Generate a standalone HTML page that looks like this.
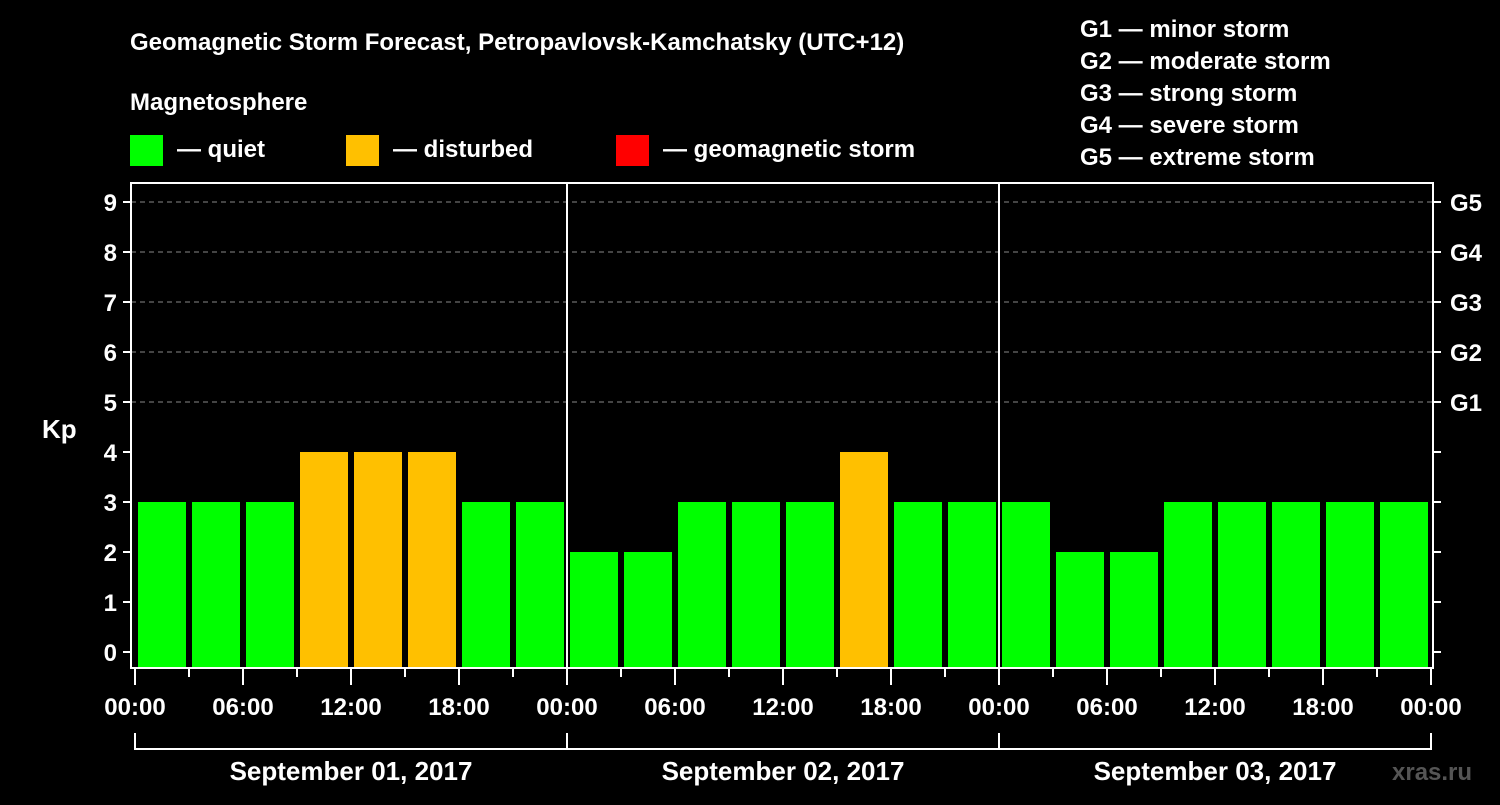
<!DOCTYPE html>
<html><head><meta charset="utf-8"><style>
body{margin:0;background:#000;width:1500px;height:800px;overflow:hidden}
svg text{font-family:"Liberation Sans",Arial,sans-serif;font-weight:bold;fill:#fff}
</style></head><body>
<svg id="c" width="1500" height="800" xmlns="http://www.w3.org/2000/svg">
<rect width="1500" height="800" fill="#000"/>
<text x="130" y="50" font-size="24">Geomagnetic Storm Forecast, Petropavlovsk-Kamchatsky (UTC+12)</text>
<text x="130" y="110" font-size="24">Magnetosphere</text>
<rect x="130" y="135" width="33" height="31" fill="#00ff00"/>
<text x="177" y="157" font-size="24">— quiet</text>
<rect x="346" y="135" width="33" height="31" fill="#ffc000"/>
<text x="393" y="157" font-size="24">— disturbed</text>
<rect x="616" y="135" width="33" height="31" fill="#ff0000"/>
<text x="663" y="157" font-size="24">— geomagnetic storm</text>
<g font-size="24">
<text x="1080" y="37">G1 — minor storm</text>
<text x="1080" y="69">G2 — moderate storm</text>
<text x="1080" y="101">G3 — strong storm</text>
<text x="1080" y="133">G4 — severe storm</text>
<text x="1080" y="165">G5 — extreme storm</text>
</g>
<text x="42" y="438" font-size="26">Kp</text>
<text x="1392" y="780" font-size="24" fill="#555" style="fill:#555">xras.ru</text>
<g id="plot"></g>
</svg>
<script>
const kpValues=[3,3,3,4,4,4,3,3, 2,2,3,3,3,4,3,3, 3,2,2,3,3,3,3,3];
const dayLabels=["September 01, 2017","September 02, 2017","September 03, 2017"];
const hourLabels=["00:00","06:00","12:00","18:00"];
const gLabels=["G1","G2","G3","G4","G5"];
const yTicks=[0,1,2,3,4,5,6,7,8,9];
const NS="http://www.w3.org/2000/svg";
const X0=135,SLOT=54,FL=131,FR=1433,FT=183,FB=668;
const xs=i=>X0+i*SLOT;
const ys=v=>652-50*v;
const g=document.getElementById('plot');
function mk(t,a){const e=document.createElementNS(NS,t);for(const k in a)e.setAttribute(k,a[k]);g.appendChild(e);return e;}
function col(v){return v>=5?"#ff0000":v>=4?"#ffc000":"#00ff00";}
// grid
yTicks.forEach(v=>{
  if(v>=5){const l=mk('line',{x1:FL,x2:FR,y1:ys(v),y2:ys(v),stroke:'#888','stroke-dasharray':'5,4','stroke-width':1});
  
  }
  const t=mk('line',{x1:FL-8,x2:FL,y1:ys(v),y2:ys(v),stroke:'#fff','stroke-width':2});
  
  
  const r=mk('line',{x1:FR,x2:FR+8,y1:ys(v),y2:ys(v),stroke:'#fff','stroke-width':2});
  
  
  const tx=mk('text',{x:FL-14,y:ys(v)+9,'font-size':24,'text-anchor':'end'});tx.textContent=v;
  
  
  if(v>=5){const gt=mk('text',{x:1450,y:ys(v)+9,'font-size':24});gt.textContent=gLabels[v-5];
  
  }
});
// bars
kpValues.forEach((v,i)=>{
  const b=mk('rect',{x:xs(i)+3,y:ys(v),width:48,height:FB-1-ys(v),fill:col(v)});
  
  
});
// frame
const f=mk('rect',{x:FL,y:FT,width:FR-FL,height:FB-FT,fill:'none',stroke:'#fff','stroke-width':2});


for(let d=1;d<3;d++){const l=mk('line',{x1:xs(d*8),x2:xs(d*8),y1:FT,y2:FB,stroke:'#fff','stroke-width':2});

}
// x ticks
for(let i=0;i<=24;i++){
  const major=i%2==0;
  const t=mk('line',{x1:xs(i),x2:xs(i),y1:FB,y2:major?685:677,stroke:'#fff','stroke-width':2});
  
  
  if(major){const tx=mk('text',{x:xs(i),y:715,'font-size':24,'text-anchor':'middle'});tx.textContent=hourLabels[(i/2)%4];
  
  }
}
dayLabels.forEach((d,k)=>{
  const x1=xs(k*8),x2=xs(k*8+8);
  const p=mk('path',{d:`M${x1},733V749H${x2}${k==2?'V733':''}`,stroke:'#fff','stroke-width':2,fill:'none'});
  
  
  const t=mk('text',{x:(x1+x2)/2,y:780,'font-size':26,'text-anchor':'middle'});t.textContent=d;
  
  
});
</script>
</body></html>
